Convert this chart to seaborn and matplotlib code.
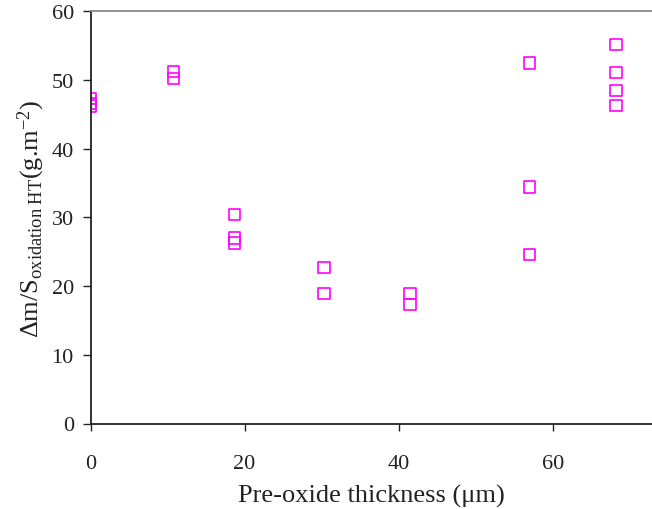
import matplotlib
matplotlib.use("Agg")
import matplotlib.pyplot as plt
import seaborn as sns
import pandas as pd

thickness = [0, 0, 0, 10.8, 10.8, 18.7, 18.7, 18.7, 30.3, 30.3, 41.5, 41.5,
             57.0, 57.0, 57.0, 68.2, 68.2, 68.2, 68.2]
mass_gain = [47.3, 46.6, 46.2, 51.2, 50.2, 30.4, 27.0, 26.3, 22.7, 18.9, 18.9, 17.3,
             52.5, 34.4, 24.6, 55.2, 51.1, 48.5, 46.3]
x_ticks = [0, 20, 40, 60]
y_ticks = [0, 10, 20, 30, 40, 50, 60]

df = pd.DataFrame({"thickness": thickness, "mass_gain": mass_gain})

sns.set_style("white")
plt.rcParams['font.family'] = ['Liberation Serif', 'DejaVu Serif']
plt.rcParams['mathtext.fontset'] = 'custom'
plt.rcParams['mathtext.rm'] = 'Liberation Serif'
plt.rcParams['mathtext.it'] = 'Liberation Serif:italic'

fig = plt.figure(figsize=(6.52, 5.10), dpi=100)
ax = fig.add_axes([90.5/652, 85.5/510, 1 - 90.5/652, (424.5 - 12.3)/510])

sns.scatterplot(data=df, x="thickness", y="mass_gain", ax=ax, marker="s", s=68,
                facecolors="none", edgecolor="#FF00FF", linewidth=1.2, legend=False)

ax.set_xlim(0, 72.9)
ax.set_ylim(0, 60)
ax.set_xticks(x_ticks)
ax.set_yticks(y_ticks)
ax.tick_params(axis="x", direction="out", length=5, width=1, pad=17, labelsize=16, colors="#222222")
ax.tick_params(axis="y", direction="out", length=6, width=1, pad=6, labelsize=16, colors="#222222")
ax.tick_params(bottom=True, left=True)

for side in ["left", "bottom"]:
    ax.spines[side].set_color("#222222")
    ax.spines[side].set_linewidth(1.3)
ax.spines["top"].set_color("#888888")
ax.spines["top"].set_linewidth(1.3)
ax.spines["right"].set_visible(False)

ax.set_xlabel("Pre-oxide thickness (\u03bcm)", fontsize=19, labelpad=8, color="#222222")
ax.set_ylabel(r"$\Delta$m/S$_{\mathrm{oxidation\ HT}}$(g.m$^{\mathrm{-2}}$)", fontsize=19,
              labelpad=3, color="#222222")

fig.savefig("out.png", dpi=100)
